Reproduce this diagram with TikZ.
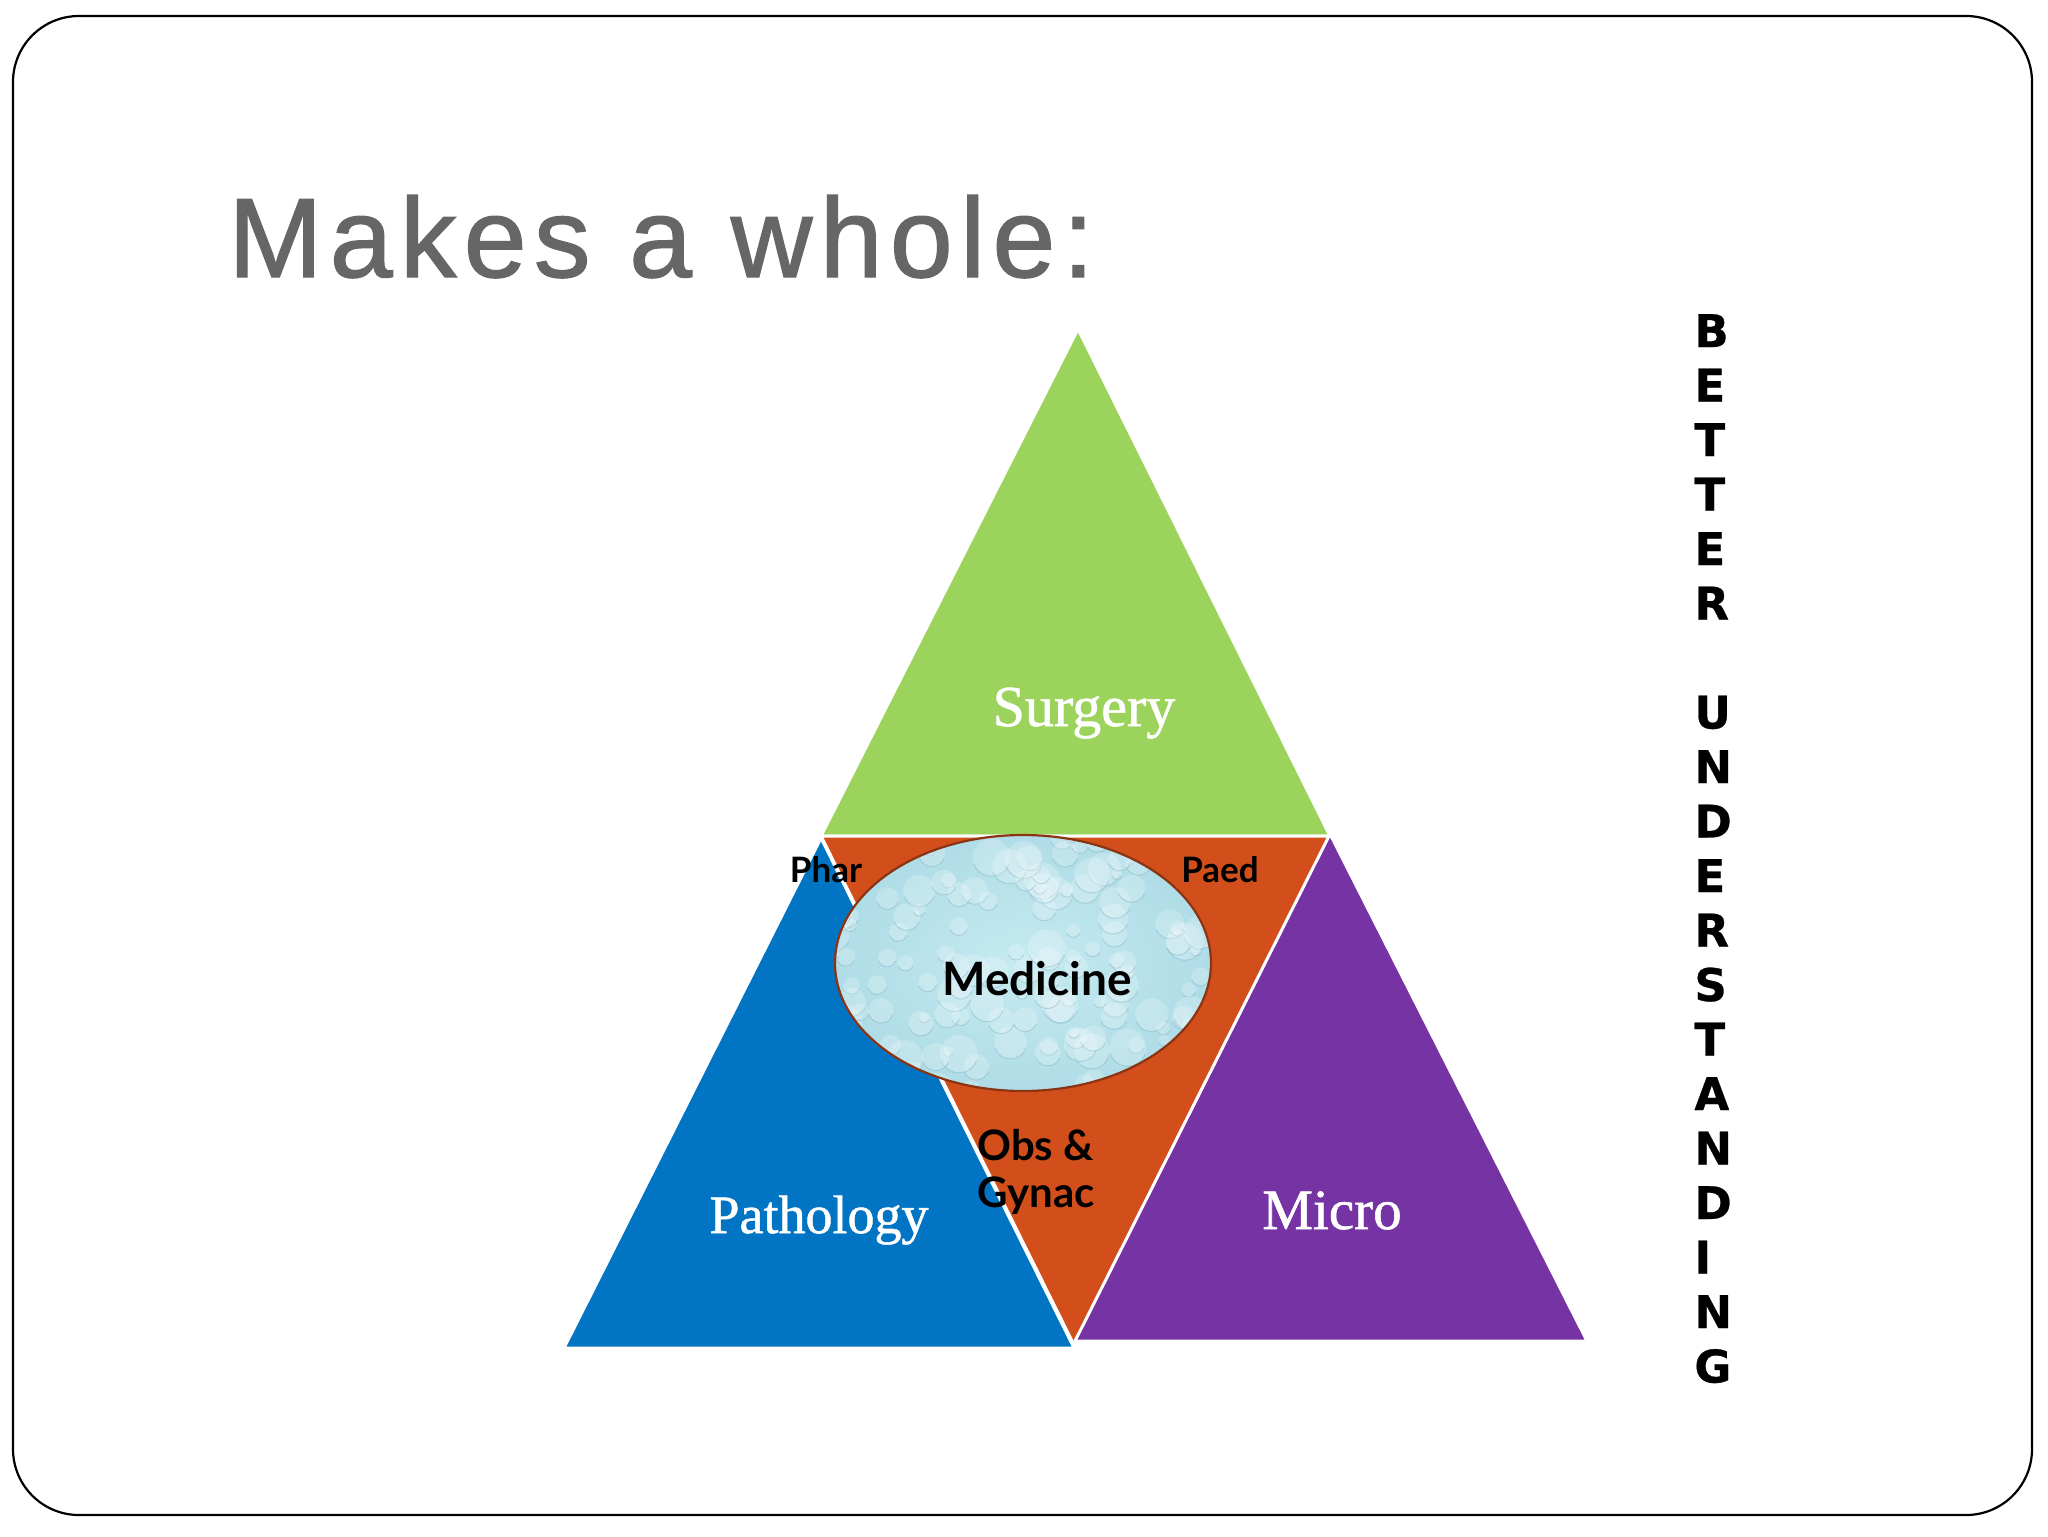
\documentclass[tikz,border=0pt]{standalone}
\usepackage{fontspec}
\setmainfont{Liberation Serif}
\newfontfamily\titlefont{Liberation Sans}[LetterSpace=6.5, FakeBold=1.2]
\newfontfamily\serifbold{Liberation Serif}[FakeBold=1.0]
\newfontfamily\boldsans{Lato}
\newfontfamily\vertfont{DejaVu Sans}[FakeBold=0.6]
\definecolor{grn}{HTML}{9CD35C}
\definecolor{org}{HTML}{D24F1C}
\definecolor{blu}{HTML}{0174C3}
\definecolor{pur}{HTML}{7633A3}
\definecolor{titlegray}{HTML}{666666}
\definecolor{water}{HTML}{AEDCE6}
\definecolor{waterlight}{HTML}{C6EAF1}
\definecolor{dropedge}{HTML}{78AEBD}
\definecolor{rim}{HTML}{8B3414}
\tikzset{
  tri/.style={draw=white, line width=1.5pt, line join=round},
  bigserif/.style={text=white, inner sep=0pt, anchor=base},
  smalllab/.style={text=black, inner sep=0pt, anchor=base, font=\boldsans\bfseries\fontsize{17.5pt}{20pt}\selectfont},
  vletter/.style={text=black, inner sep=0pt, anchor=base west, font=\vertfont\bfseries\fontsize{22.5pt}{24pt}\selectfont}
}
\begin{document}
\begin{tikzpicture}[x=0.5pt,y=-0.5pt]
\useasboundingbox (0,0) rectangle (2048,1536);
\fill[white] (0,0) rectangle (2048,1536);
\draw[line width=1.1pt, rounded corners=33pt] (13,16) rectangle (2032,1515);

% corner coordinates
\coordinate (gA) at (1078,329);
\coordinate (gL) at (821,836);
\coordinate (gR) at (1330,836);
\coordinate (oB) at (1074,1345);
\coordinate (bA) at (821,838);
\coordinate (bL) at (564,1348);
\coordinate (bR) at (1074,1348);
\coordinate (pA) at (1330,834);
\coordinate (pL) at (1075,1341);
\coordinate (pR) at (1587,1341);
\coordinate (medc) at (1023,963);

\filldraw[tri, fill=grn] (gA) -- (gL) -- (gR) -- cycle;
\filldraw[tri, fill=org] (gL) -- (gR) -- (oB) -- cycle;
\filldraw[tri, fill=blu] (bA) -- (bL) -- (bR) -- cycle;
\filldraw[tri, fill=pur] (pA) -- (pL) -- (pR) -- cycle;

% water-drop ellipse
\begin{scope}
  \clip (medc) ellipse [x radius=94pt, y radius=64pt];
  \shade[inner color=waterlight, outer color=water] (medc) ellipse [x radius=96pt, y radius=66pt];
  \pgfmathsetseed{11}
  \foreach \i in {1,...,150}{
    \pgfmathsetmacro\px{1023+(rnd-0.5)*390}
    \pgfmathsetmacro\py{963+(rnd-0.5)*270}
    \pgfmathsetmacro\rr{2.5+rnd*7}
    \fill[white, opacity=0.22] (\px,\py) circle [radius=\rr pt];
    \draw[dropedge, opacity=0.4, line width=0.5pt] (\px,\py) ++(200:\rr pt) arc [start angle=200, end angle=340, radius=\rr pt];
  }
\end{scope}
\draw[rim, line width=1.1pt] (medc) ellipse [x radius=94pt, y radius=64pt];

% title
\node[anchor=base west, inner sep=0pt, text=titlegray, font=\titlefont\fontsize{56.5pt}{60pt}\selectfont] (title) at (228,277) {Makes a whole:};

% labels
\node[bigserif, font=\serifbold\fontsize{29pt}{34pt}\selectfont] (surg) at (1084,726) {Surgery};
\node[bigserif, font=\serifbold\fontsize{27pt}{32pt}\selectfont] (path) at (819,1233) {Pathology};
\node[bigserif, font=\serifbold\fontsize{28.5pt}{32pt}\selectfont] (micro) at (1332,1229) {Micro};
\node[text=black, inner sep=0pt, anchor=base, font=\boldsans\bfseries\fontsize{23pt}{26pt}\selectfont] (medt) at (1037,995) {Medicine};
\node[smalllab] (phar) at (826,882) {Phar};
\node[smalllab] (paed) at (1220,882) {Paed};
\node[smalllab, anchor=base west, font=\boldsans\bfseries\fontsize{21pt}{24pt}\selectfont] (obs) at (977,1160) {Obs \&};
\node[smalllab, anchor=base west, font=\boldsans\bfseries\fontsize{21pt}{24pt}\selectfont] (gyn) at (977,1207) {Gynac};

% vertical text
\foreach \ch/\k in {B/0,E/1,T/2,T/3,E/4,R/5,U/7,N/8,D/9,E/10,R/11,S/12,T/13,A/14,N/15,D/16,I/17,N/18,G/19}{
  \node[vletter] (v\k) at (1694,{347+\k*54.5}) {\ch};
}
\end{tikzpicture}
\end{document}
